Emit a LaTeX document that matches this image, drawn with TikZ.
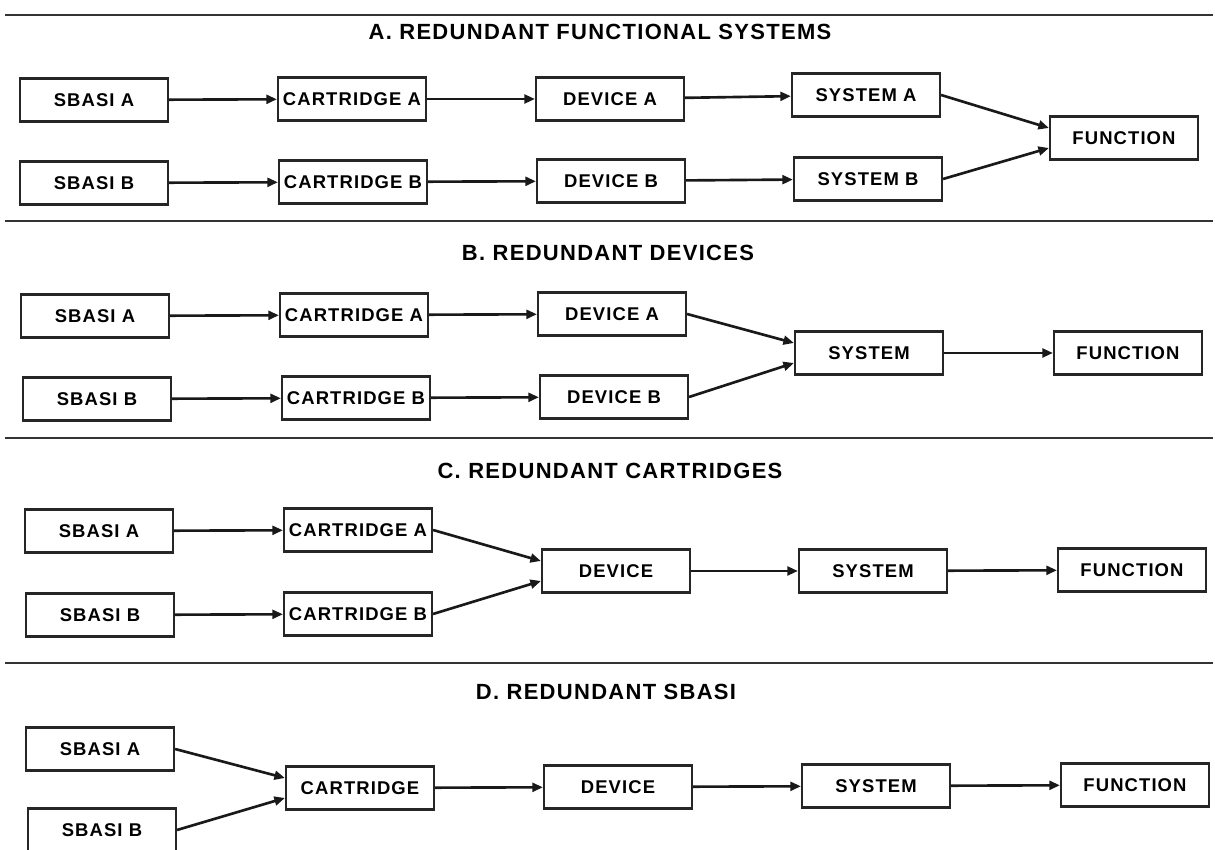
\documentclass[tikz,border=0pt]{standalone}
\usepackage{fontspec}
\setmainfont{Liberation Sans}
\newfontfamily\blockfont{Liberation Sans}[LetterSpace=6]
\newfontfamily\headfont{Liberation Sans}[LetterSpace=6]
\usetikzlibrary{arrows.meta}
\tikzset{
  block/.style={rectangle, draw=black!85, line width=1.2pt, minimum width=2.96cm, minimum height=0.86cm, inner sep=0pt, font=\blockfont\bfseries\fontsize{10.5}{12}\selectfont},
  flow/.style={-{Triangle[length=6pt,width=5pt]}, line width=1.5pt, draw=black!90},
  rule/.style={line width=1.3pt, draw=black!80},
  heading/.style={font=\headfont\bfseries\fontsize{12.5}{14}\selectfont}
}

\begin{document}
\begin{tikzpicture}
  \useasboundingbox (0,0) rectangle (24.3,17);

  % separators
  \coordinate (r1l) at (0.1,16.70); \coordinate (r1r) at (24.25,16.70);
  \coordinate (r2l) at (0.1,12.58); \coordinate (r2r) at (24.25,12.58);
  \coordinate (r3l) at (0.1,8.24);  \coordinate (r3r) at (24.25,8.24);
  \coordinate (r4l) at (0.1,3.74);  \coordinate (r4r) at (24.25,3.74);
  \draw[rule] (r1l) -- (r1r);
  \draw[rule] (r2l) -- (r2r);
  \draw[rule] (r3l) -- (r3r);
  \draw[rule] (r4l) -- (r4r);

  % A
  \node[heading] (tA) at (12.0,16.36) {A. REDUNDANT FUNCTIONAL SYSTEMS};
  \node[block] (sa1) at (1.88,15.00) {SBASI A};
  \node[block] (sb1) at (1.88,13.34) {SBASI B};
  \node[block] (ca1) at (7.04,15.02) {CARTRIDGE A};
  \node[block] (cb1) at (7.06,13.36) {CARTRIDGE B};
  \node[block] (da1) at (12.20,15.02) {DEVICE A};
  \node[block] (db1) at (12.22,13.38) {DEVICE B};
  \node[block] (ya1) at (17.32,15.10) {SYSTEM A};
  \node[block] (yb1) at (17.36,13.42) {SYSTEM B};
  \node[block] (f1) at (22.48,14.24) {FUNCTION};
  \draw[flow] (sa1) -- (ca1);
  \draw[flow] (sb1) -- (cb1);
  \draw[flow] (ca1) -- (da1);
  \draw[flow] (cb1) -- (db1);
  \draw[flow] (da1) -- (ya1);
  \draw[flow] (db1) -- (yb1);
  \draw[flow] (ya1.east) -- ([yshift=0.2cm]f1.west);
  \draw[flow] (yb1.east) -- ([yshift=-0.2cm]f1.west);

  % B
  \node[heading] (tB) at (12.16,11.94) {B. REDUNDANT DEVICES};
  \node[block] (sa2) at (1.90,10.68) {SBASI A};
  \node[block] (sb2) at (1.94,9.02) {SBASI B};
  \node[block] (ca2) at (7.08,10.70) {CARTRIDGE A};
  \node[block] (cb2) at (7.12,9.04) {CARTRIDGE B};
  \node[block] (da2) at (12.24,10.72) {DEVICE A};
  \node[block] (db2) at (12.28,9.06) {DEVICE B};
  \node[block] (y2) at (17.38,9.94) {SYSTEM};
  \node[block] (f2) at (22.56,9.94) {FUNCTION};
  \draw[flow] (sa2) -- (ca2);
  \draw[flow] (sb2) -- (cb2);
  \draw[flow] (ca2) -- (da2);
  \draw[flow] (cb2) -- (db2);
  \draw[flow] (da2.east) -- ([yshift=0.2cm]y2.west);
  \draw[flow] (db2.east) -- ([yshift=-0.2cm]y2.west);
  \draw[flow] (y2) -- (f2);

  % C
  \node[heading] (tC) at (12.20,7.58) {C. REDUNDANT CARTRIDGES};
  \node[block] (sa3) at (1.98,6.38) {SBASI A};
  \node[block] (sb3) at (2.00,4.70) {SBASI B};
  \node[block] (ca3) at (7.16,6.40) {CARTRIDGE A};
  \node[block] (cb3) at (7.16,4.72) {CARTRIDGE B};
  \node[block] (d3) at (12.32,5.58) {DEVICE};
  \node[block] (y3) at (17.46,5.58) {SYSTEM};
  \node[block] (f3) at (22.64,5.60) {FUNCTION};
  \draw[flow] (sa3) -- (ca3);
  \draw[flow] (sb3) -- (cb3);
  \draw[flow] (ca3.east) -- ([yshift=0.2cm]d3.west);
  \draw[flow] (cb3.east) -- ([yshift=-0.2cm]d3.west);
  \draw[flow] (d3) -- (y3);
  \draw[flow] (y3) -- (f3);

  % D
  \node[heading] (tD) at (12.12,3.16) {D. REDUNDANT SBASI};
  \node[block] (sa4) at (2.00,2.02) {SBASI A};
  \node[block] (sb4) at (2.04,0.40) {SBASI B};
  \node[block] (c4) at (7.20,1.24) {CARTRIDGE};
  \node[block] (d4) at (12.36,1.26) {DEVICE};
  \node[block] (y4) at (17.52,1.28) {SYSTEM};
  \node[block] (f4) at (22.70,1.30) {FUNCTION};
  \draw[flow] (sa4.east) -- ([yshift=0.2cm]c4.west);
  \draw[flow] (sb4.east) -- ([yshift=-0.2cm]c4.west);
  \draw[flow] (c4) -- (d4);
  \draw[flow] (d4) -- (y4);
  \draw[flow] (y4) -- (f4);
\end{tikzpicture}
\end{document}
